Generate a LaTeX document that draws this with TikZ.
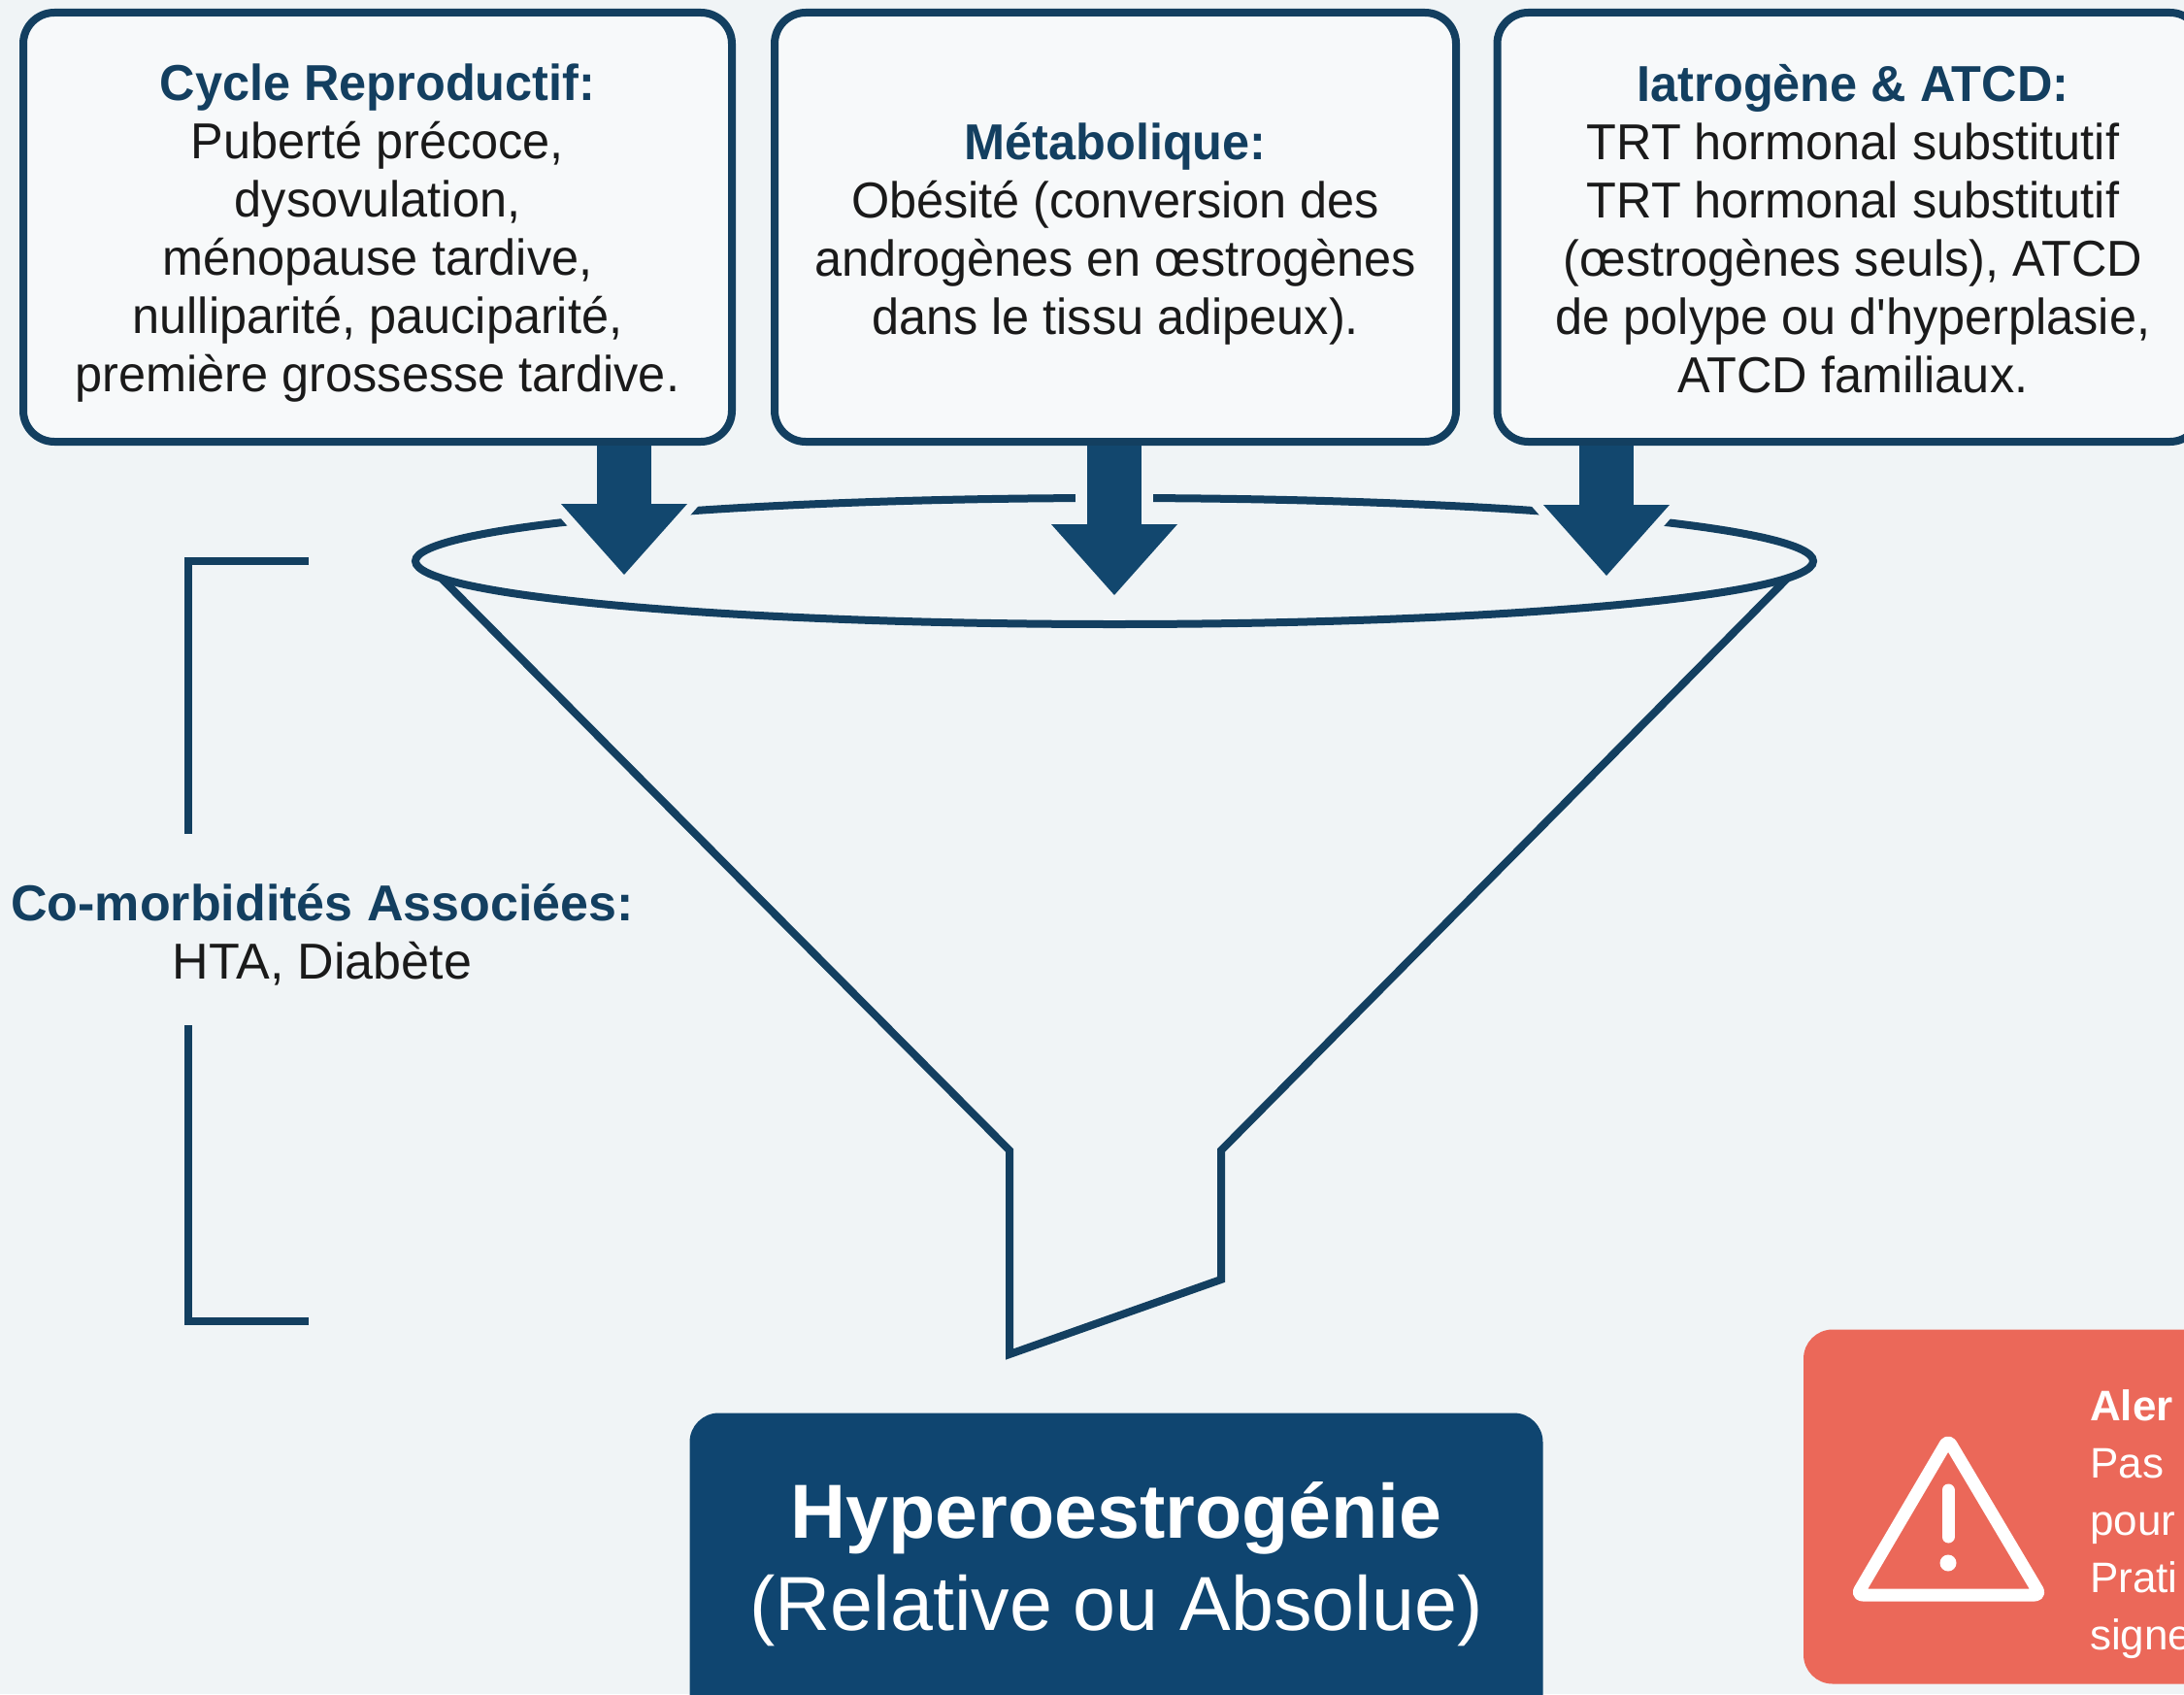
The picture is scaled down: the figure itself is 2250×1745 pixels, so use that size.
\documentclass[tikz,border=0pt]{standalone}
\usepackage{fontspec}
\setmainfont{Liberation Sans}[Ligatures=TeXOff]
\newfontfamily\boxfont{Liberation Sans}[Ligatures=TeXOff, FakeStretch=0.97]
\usetikzlibrary{positioning, calc, arrows.meta}

\definecolor{bg}{HTML}{F0F4F6}
\definecolor{navy}{HTML}{133F60}
\definecolor{arrowblue}{HTML}{12476E}
\definecolor{hyperblue}{HTML}{0F4570}
\definecolor{alertred}{HTML}{EB6859}
\definecolor{ink}{HTML}{1A1A1A}

\tikzset{
	riskbox/.style={draw=navy, line width=8pt, rounded corners=32pt, fill=white!45!bg, inner sep=0pt},
	boxtext/.style={anchor=north, align=center, text=ink, inner sep=0pt, font=\boxfont\fontsize{52}{60}\selectfont},
	sidetext/.style={anchor=north, align=center, text=ink, inner sep=0pt, font=\fontsize{52}{60}\selectfont},
	flowarrow/.style={draw=arrowblue, line width=56pt, -{Triangle[width=130pt, length=73pt, line width=0pt]}},
	halo/.style={draw=bg, line width=80pt, -{Triangle[width=162pt, length=92pt, line width=0pt]}},
	funnel/.style={draw=navy, line width=8pt},
}

\begin{document}
\begin{tikzpicture}[x=1pt, y=-1pt]
\useasboundingbox (0,0) rectangle (2250,1745);
\clip (0,0) rectangle (2250,1745);
\fill[bg] (0,0) rectangle (2250,1745);

\foreach \n/\x/\w in {cyc/389/730, meta/1149/702, iatro/1905/725}
	\node[riskbox, minimum width=\w, minimum height=442] (\n) at (\x,234) {};

\node[boxtext, below=57pt of cyc.north] (cyctxt) {\textcolor{navy}{\textbf{Cycle Reproductif:}}\\Puberté précoce,\\dysovulation,\\ménopause tardive,\\nulliparité, pauciparité,\\première grossesse tardive.};
\node[boxtext, below=117pt of meta.north] (metatxt) {\textcolor{navy}{\textbf{Métabolique:}}\\Obésité (conversion des\\androgènes en œstrogènes\\dans le tissu adipeux).};
\node[boxtext, below=57pt of iatro.north, xshift=4pt] (iatrotxt) {\textcolor{navy}{\textbf{Iatrogène \& ATCD:}}\\TRT hormonal substitutif\\TRT hormonal substitutif\\(œstrogènes seuls), ATCD\\de polype ou d'hyperplasie,\\ATCD familiaux.};

\coordinate (rim) at (1148,578);
\draw[funnel] (rim) ellipse [x radius=720, y radius=65];
\coordinate (spoutl) at (1040,1185);
\coordinate (spoutr) at (1258,1185);
\draw[funnel, line join=miter] ($(rim)+(-693,18)$) -- (spoutl) -- ++(0,210) -- (1258,1318) -- (spoutr) -- ($(rim)+(693,18)$);

\foreach \src/\x/\tip in {cyc/643/592, meta/1148/613, iatro/1655/593} {
	\coordinate (tip\src) at (\x,\tip);
	\draw[halo] ($(\src.south -| tip\src)+(0,8)$) -- ($(tip\src)+(0,16)$);
	\draw[flowarrow] (\src.south -| tip\src) -- (tip\src);
}

\coordinate (brtop) at (318,578);
\coordinate (brbot) at (318,1361);
\draw[funnel] (brtop) -| (194,859);
\draw[funnel] (194,1056) |- (brbot);
\node[sidetext] (comorb) at (332,910) {\textcolor{navy}{\textbf{Co-morbidités Associées:}}\\HTA, Diabète};

\node[fill=hyperblue, rounded corners=30pt, minimum width=879, minimum height=345, inner sep=0pt] (hyper) at (1150,1628) {};
\node[anchor=north, align=center, text=white, inner sep=0pt, font=\fontsize{79}{95}\selectfont] (hypertxt) at (1150,1526) {\textbf{Hyperoestrogénie}\\(Relative ou Absolue)};

\node[fill=alertred, rounded corners=30pt, minimum width=462, minimum height=365, inner sep=0pt] (alerte) at (2089,1552) {};
\draw[white, line width=13pt, line join=round, rounded corners=6pt] (2007,1483) -- (2102,1643) -- (1913,1643) -- cycle;
\draw[white, line width=13pt, line cap=round] (2007,1535) -- (2007,1583);
\fill[white] (2007,1610) circle (8.5);
\node[anchor=north west, align=left, text=white, inner sep=0pt, font=\fontsize{44}{59}\selectfont] (alertxt) at (2153,1431) {\textbf{Aler}\\Pas\\pour\\Prati\\signe};
\end{tikzpicture}
\end{document}
